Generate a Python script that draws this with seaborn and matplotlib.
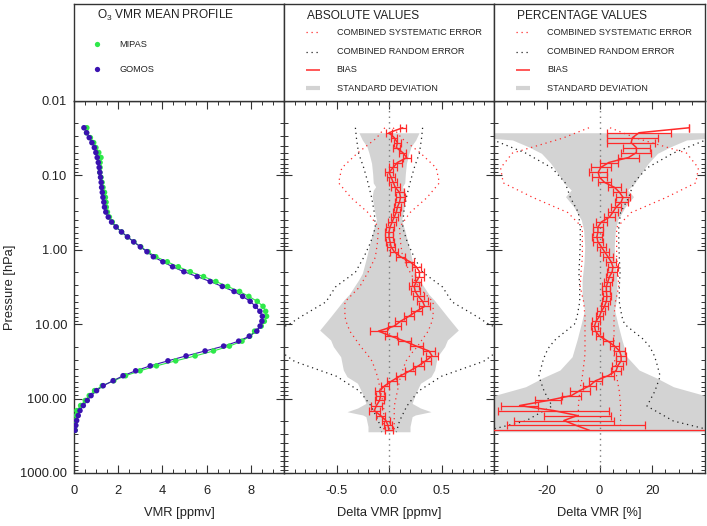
import numpy as np
import pandas as pd
import matplotlib
matplotlib.use("Agg")
import matplotlib.pyplot as plt
import seaborn as sns
from matplotlib.ticker import FixedLocator, MultipleLocator, LogLocator, FuncFormatter, NullFormatter

# ---------------- data ----------------
pressure = [0.0229, 0.0267, 0.0311, 0.0363, 0.0423, 0.0493, 0.0575, 0.0671, 0.0782, 0.0912,
            0.106, 0.124, 0.145, 0.169, 0.197, 0.229, 0.267, 0.311, 0.363, 0.423,
            0.493, 0.575, 0.671, 0.782, 0.912, 1.06, 1.24, 1.45, 1.69, 1.97,
            2.29, 2.67, 3.11, 3.63, 4.23, 4.93, 5.75, 6.71, 7.82, 9.12,
            10.6, 12.4, 14.5, 16.9, 19.7, 22.9, 26.7, 31.1, 36.3, 42.3,
            49.3, 57.5, 67.1, 78.2, 91.2, 106, 124, 145, 169, 197,
            229, 267]

vmr_gomos = [0.45, 0.57, 0.69, 0.81, 0.92, 0.99, 1.05, 1.10, 1.14, 1.17,
             1.20, 1.23, 1.25, 1.28, 1.31, 1.35, 1.38, 1.44, 1.55, 1.70,
             1.90, 2.15, 2.42, 2.70, 3.00, 3.30, 3.59, 4.02, 4.46, 4.97,
             5.57, 6.16, 6.71, 7.24, 7.63, 7.97, 8.21, 8.41, 8.52, 8.50,
             8.42, 8.27, 7.93, 7.45, 6.77, 5.93, 5.07, 4.25, 3.45, 2.79,
             2.22, 1.77, 1.32, 1.02, 0.77, 0.60, 0.42, 0.27, 0.19, 0.12,
             0.08, 0.05]

vmr_mipas = [0.58, 0.57, 0.74, 0.89, 0.99, 1.12, 1.22, 1.18, 1.18, 1.17,
             1.22, 1.27, 1.31, 1.38, 1.42, 1.45, 1.46, 1.51, 1.60, 1.73,
             1.91, 2.15, 2.42, 2.71, 3.02, 3.35, 3.70, 4.22, 4.72, 5.26,
             5.86, 6.42, 6.95, 7.49, 7.91, 8.29, 8.55, 8.67, 8.71, 8.61,
             8.47, 8.17, 7.95, 7.60, 7.03, 6.31, 5.48, 4.60, 3.73, 2.99,
             2.33, 1.80, 1.28, 0.93, 0.69, 0.51, 0.30, 0.13, 0.11, 0.09,
             0.07, 0.05]

bias_abs = [0.13, 0.00, 0.05, 0.08, 0.07, 0.13, 0.17, 0.08, 0.04, 0.00,
            0.02, 0.04, 0.06, 0.10, 0.11, 0.10, 0.08, 0.07, 0.05, 0.03,
            0.01, 0.00, 0.00, 0.01, 0.02, 0.05, 0.11, 0.20, 0.26, 0.29,
            0.29, 0.26, 0.24, 0.25, 0.28, 0.32, 0.34, 0.26, 0.19, 0.11,
            0.05, -0.10, 0.02, 0.15, 0.26, 0.38, 0.41, 0.35, 0.28, 0.20,
            0.11, 0.03, -0.04, -0.09, -0.08, -0.09, -0.12, -0.14, -0.08, -0.03,
            -0.01, 0.00]

bias_abs_err = [0.03, 0.03, 0.03, 0.03, 0.035, 0.035, 0.04, 0.04, 0.04, 0.04,
                0.04, 0.04, 0.04, 0.04, 0.04, 0.04, 0.035, 0.035, 0.035, 0.035,
                0.035, 0.035, 0.035, 0.035, 0.035, 0.04, 0.04, 0.04, 0.04, 0.04,
                0.045, 0.045, 0.045, 0.045, 0.05, 0.05, 0.05, 0.05, 0.05, 0.055,
                0.06, 0.08, 0.06, 0.06, 0.06, 0.06, 0.06, 0.05, 0.05, 0.05,
                0.045, 0.045, 0.04, 0.04, 0.04, 0.04, 0.05, 0.05, 0.04, 0.04,
                0.04, 0.04]

bias_pct = [34.0, 15.0, 12.5, 12.0, 14.0, 14.0, 11.0, 3.5, 0.5, -0.5,
            0.0, 1.9, 5.7, 7.6, 8.9, 8.2, 6.3, 5.1, 3.8, 0.7,
            -0.6, -0.6, -1.0, -0.6, 0.7, 1.9, 3.2, 4.4, 5.1, 4.8,
            3.8, 3.2, 2.6, 2.6, 2.8, 2.6, 1.9, 0.7, 0.0, -1.3,
            -1.9, -1.5, 0.0, 3.2, 5.7, 7.6, 8.2, 8.2, 6.9, 6.3,
            3.2, -1.5, -3.7, -7.5, -10.7, -19.5, -30.3, -17.3, -8.4, -13.5,
            -8.9, -3.8]

bias_pct_err = [0.0, 12.0, 9.5, 9.0, 5.0, 5.7, 4.0, 3.5, 3.8, 3.5,
                2.8, 2.5, 2.5, 2.5, 2.5, 2.5, 2.0, 2.0, 2.0, 2.0,
                1.8, 1.8, 1.8, 1.8, 1.8, 1.8, 1.8, 1.8, 1.8, 1.8,
                1.5, 1.5, 1.5, 1.5, 1.5, 1.5, 1.5, 1.5, 1.5, 1.5,
                1.5, 1.5, 1.5, 1.8, 1.8, 2.0, 2.0, 2.0, 2.0, 2.0,
                2.2, 2.5, 2.5, 3.8, 3.5, 5.0, 7.0, 21.0, 12.6, 19.0,
                26.0, 45.0]

err_pressure = [0.0229, 0.0316, 0.0501, 0.0794, 0.126, 0.200, 0.316, 0.501, 0.794, 1.26,
                2.00, 3.16, 5.01, 7.94, 10.0, 12.6, 15.8, 20.0, 25.1, 31.6,
                50.1, 79.4, 126, 200, 282]

sys_err_abs = [0.04, 0.12, 0.30, 0.45, 0.48, 0.36, 0.20, 0.10, 0.11, 0.13,
               0.20, 0.28, 0.42, 0.42, 0.40, 0.37, 0.32, 0.27, 0.21, 0.16,
               0.11, 0.08, 0.05, 0.05, 0.05]

rnd_err_abs = [0.32, 0.31, 0.29, 0.24, 0.20, 0.165, 0.14, 0.13, 0.175, 0.24,
               0.32, 0.51, 0.60, 0.84, 0.95, 1.10, 1.20, 1.15, 1.00, 0.90,
               0.50, 0.28, 0.17, 0.10, 0.07]

sys_err_pct = [4.0, 14.0, 33.0, 37.5, 36.5, 25.0, 12.0, 6.5, 6.5, 6.5,
               7.0, 7.3, 6.0, 5.5, 5.5, 5.5, 5.5, 5.5, 5.5, 5.8,
               6.5, 7.5, 8.0, 8.0, 8.0]

rnd_err_pct = [55.0, 42.0, 28.0, 18.0, 13.0, 11.0, 8.0, 7.3, 7.3, 7.5,
               7.8, 7.5, 7.5, 8.5, 9.5, 13.0, 16.5, 19.0, 20.5, 21.5,
               23.0, 21.0, 18.0, 28.0, 45.0]

sd_abs_pressure = [0.0267, 0.0334, 0.0411, 0.0505, 0.0687, 0.0938, 0.126, 0.142, 0.158, 0.193,
                   0.292, 0.397, 0.542, 0.908, 1.37, 2.07, 2.55, 3.98, 4.73, 7.93,
                   12.0, 16.3, 20.0, 27.4, 41.3, 50.8, 62.2, 84.9, 116, 134,
                   150, 166, 175, 238, 279]
sd_abs = [0.286, 0.254, 0.21, 0.19, 0.166, 0.156, 0.15, 0.127, 0.15, 0.16,
          0.14, 0.12, 0.15, 0.19, 0.22, 0.254, 0.29, 0.38, 0.43, 0.556,
          0.66, 0.556, 0.53, 0.46, 0.435, 0.40, 0.30, 0.254, 0.22, 0.30,
          0.40, 0.25, 0.22, 0.20, 0.20]

sd_pct_pressure = [0.0267, 0.0308, 0.0334, 0.0411, 0.0505, 0.0687, 0.0938, 0.128, 0.157, 0.193,
                   0.263, 0.397, 0.542, 0.908, 1.52, 2.55, 3.47, 4.27, 6.46, 9.77,
                   16.2, 27.4, 41.3, 52.5, 69.2, 75.9, 102, 279]
sd_pct = [45.0, 45.0, 33.0, 27.0, 22.0, 18.5, 15.8, 13.3, 10.7, 12.9,
          9.8, 6.9, 6.0, 5.6, 5.9, 6.6, 6.6, 6.6, 5.7, 6.9,
          8.5, 10.4, 15.0, 21.5, 28.0, 32.0, 45.0, 45.0]

y_ticks = [0.01, 0.1, 1, 10, 100, 1000]
vmr_ticks = [0, 2, 4, 6, 8]
abs_ticks = [-0.5, 0.0, 0.5]
pct_ticks = [-20, 0, 20]

# ---------------- style ----------------
sns.set_theme(style="white")
plt.rcParams['font.family'] = ['Liberation Sans', 'DejaVu Sans']
plt.rcParams['mathtext.default'] = 'regular'

GREEN = '#2ee84a'
BLUE = '#3a12b0'
RED = '#ff2a2a'
GRAY = '#d3d3d3'
FRAME = '#333333'
TXT = '#222222'
DOT = (0, (1, 3))

W, H = 707, 526
fig = plt.figure(figsize=(W / 100, H / 100), dpi=100)


def rect(x0, y0, x1, y1):
    return [x0 / W, 1 - y1 / H, (x1 - x0) / W, (y1 - y0) / H]


xs = [74, 284, 494, 705]
TOP, BOT = 101, 473
axes = [fig.add_axes(rect(xs[i], TOP, xs[i + 1], BOT)) for i in range(3)]
legs = [fig.add_axes(rect(xs[i], 4, xs[i + 1], TOP)) for i in range(3)]

# ---------------- left panel: mean profiles ----------------
ax0 = axes[0]
df = pd.DataFrame({'p': pressure, 'MIPAS': vmr_mipas, 'GOMOS': vmr_gomos})
long = df.melt(id_vars='p', var_name='instrument', value_name='vmr')
pal = {'MIPAS': GREEN, 'GOMOS': BLUE}
sns.lineplot(data=long, x='vmr', y='p', hue='instrument', palette=pal, sort=False,
             estimator=None, lw=0.8, legend=False, ax=ax0)
sns.scatterplot(data=long, x='vmr', y='p', hue='instrument', palette=pal, s=16,
                linewidth=0, legend=False, ax=ax0, zorder=3)
ax0.set_xlim(0, 9.5)

# ---------------- middle / right panels ----------------
def diff_panel(ax, sd_p, sd, sys_e, rnd_e, bias, bias_err, xlim):
    sd = np.asarray(sd)
    ax.fill_betweenx(sd_p, -sd, sd, color=GRAY, lw=0, zorder=1)
    ax.axvline(0, color='#7a7a7a', ls=DOT, lw=1.0, zorder=2)
    for sgn in (-1, 1):
        ax.plot(sgn * np.asarray(sys_e), err_pressure, color=RED, ls=DOT, lw=0.9, zorder=2)
        ax.plot(sgn * np.asarray(rnd_e), err_pressure, color='#222222', ls=DOT, lw=0.9, zorder=2)
    sns.lineplot(x=bias, y=pressure, sort=False, estimator=None, color=RED, lw=1.1,
                 ax=ax, zorder=4)
    ax.errorbar(bias, pressure, xerr=bias_err, fmt='none', ecolor=RED, elinewidth=0.9,
                capsize=3.2, capthick=0.9, zorder=4)
    ax.set_xlim(*xlim)


diff_panel(axes[1], sd_abs_pressure, sd_abs, sys_err_abs, rnd_err_abs,
           bias_abs, bias_abs_err, (-1, 1))
diff_panel(axes[2], sd_pct_pressure, sd_pct, sys_err_pct, rnd_err_pct,
           bias_pct, bias_pct_err, (-40, 40))

# ---------------- axes formatting ----------------
xticks = [vmr_ticks, abs_ticks, pct_ticks]
xminor = [0.5, 0.1, 5]
xfmt = [lambda v, p: f"{v:.0f}", lambda v, p: f"{v:.1f}", lambda v, p: f"{v:.0f}"]
xlabels = ['VMR [ppmv]', 'Delta VMR [ppmv]', 'Delta VMR [%]']
for i, ax in enumerate(axes):
    ax.set_yscale('log')
    ax.set_ylim(1000, 0.01)
    ax.yaxis.set_major_locator(FixedLocator(y_ticks))
    ax.yaxis.set_minor_locator(LogLocator(base=10, subs=np.arange(2, 10)))
    ax.yaxis.set_minor_formatter(NullFormatter())
    if i == 0:
        ax.yaxis.set_major_formatter(FuncFormatter(lambda v, p: f"{v:.2f}"))
        ax.set_ylabel('Pressure [hPa]', fontsize=9.3, color=TXT, labelpad=3)
    else:
        ax.yaxis.set_major_formatter(NullFormatter())
        ax.set_ylabel('')
    ax.xaxis.set_major_locator(FixedLocator(xticks[i]))
    ax.xaxis.set_minor_locator(MultipleLocator(xminor[i]))
    ax.xaxis.set_major_formatter(FuncFormatter(xfmt[i]))
    ax.set_xlabel(xlabels[i], fontsize=9.3, color=TXT, labelpad=7)
    ax.tick_params(which='both', direction='in', top=True, bottom=True, left=True,
                   right=True, colors=FRAME, labelcolor=TXT, labelsize=9.3)
    ax.tick_params(which='major', length=6, width=0.8)
    ax.tick_params(which='minor', length=3, width=0.7)
    ax.tick_params(axis='x', which='major', pad=9)
    ax.tick_params(axis='y', which='major', pad=5)
    for s in ax.spines.values():
        s.set_color(FRAME)
        s.set_linewidth(1.0)
    ax.set_facecolor('white')

# ---------------- legend boxes ----------------
for lg in legs:
    lg.set_xlim(0, 1)
    lg.set_ylim(0, 1)
    lg.set_xticks([])
    lg.set_yticks([])
    for s in lg.spines.values():
        s.set_color(FRAME)
        s.set_linewidth(1.0)

TX, TY = 0.108, 0.879
legs[0].text(TX, TY, 'O$_3$ VMR MEAN PROFILE', fontsize=8.6, color=TXT, va='center', ha='left')
for name, yy in (('MIPAS', 0.585), ('GOMOS', 0.327)):
    legs[0].plot([0.108], [yy], 'o', ms=3.8, color=pal[name], mec='none')
    legs[0].text(0.216, yy, name, fontsize=6.6, color=TXT, va='center', ha='left')

entries = [('COMBINED SYSTEMATIC ERROR', dict(color=RED, ls=DOT, lw=0.9)),
           ('COMBINED RANDOM ERROR', dict(color='#222222', ls=DOT, lw=0.9)),
           ('BIAS', dict(color=RED, ls='-', lw=1.1)),
           ('STANDARD DEVIATION', dict(color=GRAY, ls='-', lw=3.0))]
rows = [0.708, 0.508, 0.320, 0.131]
for lg, title in ((legs[1], 'ABSOLUTE VALUES'), (legs[2], 'PERCENTAGE VALUES')):
    lg.text(TX, TY, title, fontsize=8.6, color=TXT, va='center', ha='left')
    for (lab, kw), yy in zip(entries, rows):
        lg.plot([0.105, 0.171], [yy, yy], solid_capstyle='butt', **kw)
        lg.text(0.251, yy, lab, fontsize=6.6, color=TXT, va='center', ha='left')

fig.savefig('out.png', dpi=100, facecolor='white')
